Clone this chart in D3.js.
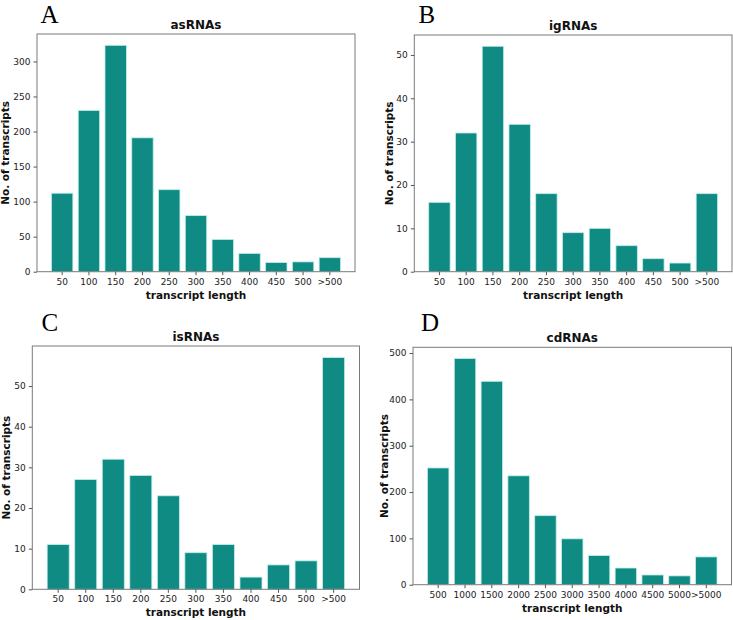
<!DOCTYPE html>
<html><head><meta charset="utf-8">
<script src="https://cdn.jsdelivr.net/npm/d3@7"></script>
<style>body{margin:0;background:#fff}</style>
</head><body>
<svg id="c" width="733" height="620"></svg>
<script>
// ---- data ----
const shortCats = ["50","100","150","200","250","300","350","400","450","500",">500"];
const longCats = ["500","1000","1500","2000","2500","3000","3500","4000","4500","5000",">5000"];
const asRNAs = [112, 230, 323, 191, 117, 80, 46, 26, 13, 14, 20];
const igRNAs = [16, 32, 52, 34, 18, 9, 10, 6, 3, 2, 18];
const isRNAs = [11, 27, 32, 28, 23, 9, 11, 3, 6, 7, 57];
const cdRNAs = [252, 488, 439, 235, 149, 99, 63, 36, 21, 19, 60];
const ticksA = [0, 50, 100, 150, 200, 250, 300];
const ticksB = [0, 10, 20, 30, 40, 50];
const ticksC = [0, 10, 20, 30, 40, 50];
const ticksD = [0, 100, 200, 300, 400, 500];

// ---- layout ----
const panels = [
  {letter:"A", title:"asRNAs", cats:shortCats, vals:asRNAs, ticks:ticksA, l:37, t:34, r:355, b:271.7, lx:40.5, ly:22.5, ylx:8.5},
  {letter:"B", title:"igRNAs", cats:shortCats, vals:igRNAs, ticks:ticksB, l:414.3, t:35, r:732, b:271.7, lx:418.5, ly:22.5, ylx:392.5},
  {letter:"C", title:"isRNAs", cats:shortCats, vals:isRNAs, ticks:ticksC, l:32.3, t:346, r:359.5, b:589.3, lx:41.5, ly:331, ylx:10},
  {letter:"D", title:"cdRNAs", cats:longCats, vals:cdRNAs, ticks:ticksD, l:413, t:347.3, r:731.5, b:584.7, lx:421, ly:331, ylx:387.5}
];

const svg = d3.select("#c");
const fill = "#0f8b84", edge = "#bfeeea";
const font = "DejaVu Sans, sans-serif";

panels.forEach(p => {
  const g = svg.append("g");
  const x = d3.scaleBand().domain(p.cats).range([p.l, p.r]).paddingInner(0.2).paddingOuter(0.54);
  const y = d3.scaleLinear().domain([0, d3.max(p.vals) * 1.05]).range([p.b, p.t]);

  g.selectAll("rect.bar").data(p.vals).join("rect")
    .attr("class","bar")
    .attr("x", (d,i) => x(p.cats[i]))
    .attr("width", x.bandwidth())
    .attr("y", d => y(d))
    .attr("height", d => y(0) - y(d))
    .attr("fill", fill).attr("stroke", edge).attr("stroke-width", 0.8);

  // frame
  g.append("rect").attr("x", p.l).attr("y", p.t).attr("width", p.r - p.l).attr("height", p.b - p.t)
    .attr("fill","none").attr("stroke","#7a7a7a").attr("stroke-width",1);

  const xa = g.append("g").attr("transform", `translate(0,${p.b})`)
    .call(d3.axisBottom(x).tickSize(3.5).tickPadding(3));
  const ya = g.append("g").attr("transform", `translate(${p.l},0)`)
    .call(d3.axisLeft(y).tickValues(p.ticks).tickSize(3.5).tickPadding(3).tickFormat(d3.format("d")));
  [xa, ya].forEach(a => {
    a.select(".domain").remove();
    a.selectAll(".tick line").attr("stroke","#555");
    a.selectAll(".tick text").attr("fill","#222").style("font-family", font).style("font-size","9px");
  });

  g.append("text").attr("x", (p.l + p.r)/2).attr("y", p.t - 5)
    .attr("text-anchor","middle").style("font-family", font).style("font-weight","bold").style("font-size","12px")
    .attr("fill","#111").text(p.title);
  g.append("text").attr("x", (p.l + p.r)/2).attr("y", p.b + 27)
    .attr("text-anchor","middle").style("font-family", font).style("font-weight","bold").style("font-size","10.5px")
    .attr("fill","#111").text("transcript length");
  g.append("text").attr("transform", `translate(${p.ylx},${(p.t + p.b)/2}) rotate(-90)`)
    .attr("text-anchor","middle").style("font-family", font).style("font-weight","bold").style("font-size","10.5px")
    .attr("fill","#111").text("No. of transcripts");
  g.append("text").attr("x", p.lx).attr("y", p.ly)
    .style("font-family","Liberation Serif, Times New Roman, serif").style("font-size","25px")
    .attr("fill","#000").text(p.letter);
});
</script>
</body></html>
